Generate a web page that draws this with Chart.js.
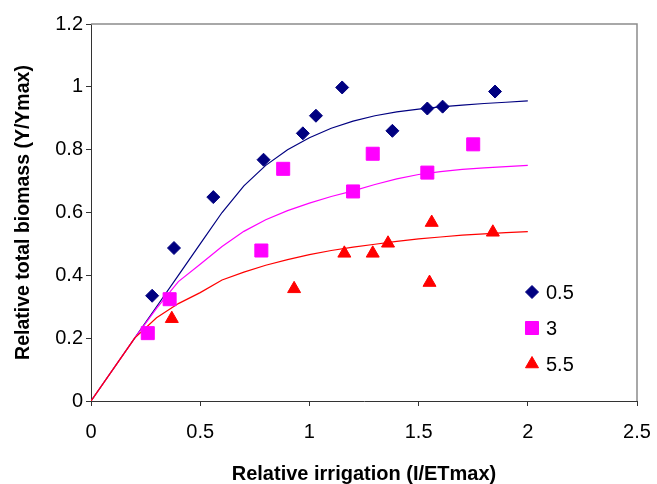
<!DOCTYPE html>
<html>
<head>
<meta charset="utf-8">
<script src="https://cdn.jsdelivr.net/npm/chart.js@4/dist/chart.umd.min.js"></script>
<style>
html,body{margin:0;padding:0;background:#fff;}
canvas{display:block;}
</style>
</head>
<body>
<canvas id="c" width="657" height="484"></canvas>
<script>
// ---- data ----
const seriesNames = ["0.5", "3", "5.5"];

const blueX = [0.28, 0.38, 0.56, 0.79, 0.97, 1.03, 1.15, 1.38, 1.54, 1.61, 1.85];
const blueY = [0.335, 0.487, 0.649, 0.768, 0.852, 0.908, 0.998, 0.860, 0.931, 0.937, 0.985];

const magX = [0.26, 0.36, 0.78, 0.88, 1.20, 1.29, 1.54, 1.75];
const magY = [0.216, 0.324, 0.479, 0.739, 0.667, 0.787, 0.727, 0.817];

const redX = [0.37, 0.93, 1.16, 1.29, 1.36, 1.55, 1.56, 1.84];
const redY = [0.262, 0.357, 0.470, 0.470, 0.502, 0.377, 0.568, 0.537];

const curveX = [0, 0.2, 0.3, 0.4, 0.5, 0.6, 0.7, 0.8, 0.9, 1.0, 1.1, 1.2, 1.3, 1.4, 1.5, 1.6, 1.7, 1.8, 1.9, 2.0];
const blueCurve = [0, 0.2, 0.3, 0.4, 0.5, 0.6, 0.685, 0.750, 0.800, 0.838, 0.868, 0.891, 0.908, 0.920, 0.929, 0.936, 0.942, 0.947, 0.951, 0.955];
const magCurve  = [0, 0.2, 0.295, 0.38, 0.435, 0.492, 0.540, 0.577, 0.606, 0.630, 0.651, 0.669, 0.689, 0.707, 0.721, 0.730, 0.737, 0.742, 0.746, 0.750];
const redCurve  = [0, 0.2, 0.265, 0.31, 0.345, 0.385, 0.410, 0.432, 0.450, 0.466, 0.479, 0.490, 0.499, 0.508, 0.516, 0.522, 0.528, 0.532, 0.536, 0.539];

const xTickValues = [0, 0.5, 1, 1.5, 2, 2.5];
const xTickLabels = ["0", "0.5", "1", "1.5", "2", "2.5"];
const yTickValues = [0, 0.2, 0.4, 0.6, 0.8, 1, 1.2];
const yTickLabels = ["0", "0.2", "0.4", "0.6", "0.8", "1", "1.2"];

const xTitle = "Relative irrigation (I/ETmax)";
const yTitle = "Relative total biomass (Y/Ymax)";

// ---- build ----
const pts = (xs, ys) => xs.map((x, i) => ({x: x, y: ys[i]}));
const FONT = "'Liberation Sans', Arial, sans-serif";
const NAVY = '#000080', MAG = '#FF00FF', RED = '#FF0000';

const frame = {
  id: 'frame',
  afterDraw(chart) {
    const {ctx, chartArea: a} = chart;
    ctx.save();
    ctx.strokeStyle = '#8c8c8c';
    ctx.lineWidth = 1.5;
    ctx.beginPath();
    ctx.moveTo(a.left, a.top);
    ctx.lineTo(a.right, a.top);
    ctx.lineTo(a.right, a.bottom);
    ctx.stroke();
    ctx.restore();
  }
};

const legendPlugin = {
  id: 'customLegend',
  afterDraw(chart) {
    const {ctx, chartArea: a} = chart;
    ctx.save();
    const items = chart.data.datasets.filter(d => d.legendItem);
    items.forEach((d, i) => {
      const mx = a.right - 105, my = a.top + 268 + i * 36;
      ctx.fillStyle = d.backgroundColor;
      ctx.strokeStyle = d.borderColor;
      ctx.lineWidth = 1;
      Chart.helpers.drawPoint(ctx, {pointStyle: d.pointStyle, radius: d.pointRadius, borderWidth: 1, rotation: 0}, mx, my);
      ctx.fillStyle = '#000';
      ctx.font = '20px ' + FONT;
      ctx.textAlign = 'left';
      ctx.textBaseline = 'middle';
      ctx.fillText(d.label, mx + 14, my + 1);
    });
    ctx.restore();
  }
};

const lineDs = (data, color, order) => ({
  type: 'scatter', data: data, showLine: true, pointRadius: 0, pointHoverRadius: 0,
  borderColor: color, backgroundColor: color, borderWidth: 1.2, fill: false, order: order, tension: 0
});
const ptDs = (label, data, color, style, r, order) => ({
  type: 'scatter', label: label, data: data, legendItem: true, pointStyle: style, pointRadius: r,
  pointHoverRadius: r, borderColor: color, backgroundColor: color, borderWidth: 1, order: order
});

new Chart(document.getElementById('c'), {
  type: 'scatter',
  data: {
    datasets: [
      ptDs(seriesNames[0], pts(blueX, blueY), NAVY, 'rectRot', 6.5, 0),
      ptDs(seriesNames[1], pts(magX, magY), MAG, 'rect', 9.2, 1),
      ptDs(seriesNames[2], pts(redX, redY), RED, 'triangle', 7.5, 2),
      lineDs(pts(curveX, blueCurve), NAVY, 5),
      lineDs(pts(curveX, magCurve), MAG, 4),
      lineDs(pts(curveX, redCurve), RED, 3)
    ]
  },
  options: {
    responsive: false,
    animation: false,
    events: [],
    layout: {padding: {left: 0, top: 24, right: 20, bottom: 0}},
    plugins: {legend: {display: false}, tooltip: {enabled: false}},
    scales: {
      x: {
        type: 'linear', min: 0, max: 2.5,
        afterFit(s) { s.height = 83; s.paddingLeft = 0; s.paddingRight = 0; },
        afterBuildTicks(s) { s.ticks = xTickValues.map(v => ({value: v})); },
        ticks: {
          color: '#000', font: {family: FONT, size: 20}, padding: 14, maxRotation: 0,
          callback: (v) => { const i = xTickValues.indexOf(v); return i >= 0 ? xTickLabels[i] : ''; }
        },
        grid: {display: true, drawOnChartArea: false, drawTicks: true, tickLength: 5, color: '#333'},
        border: {display: true, color: '#333', width: 1},
        title: {display: true, text: xTitle, color: '#000', font: {family: FONT, size: 20, weight: 'bold', lineHeight: 0.95}, padding: {top: 0, bottom: 0}}
      },
      y: {
        type: 'linear', min: 0, max: 1.2,
        afterFit(s) { s.width = 91; s.paddingTop = 0; s.paddingBottom = 0; },
        afterBuildTicks(s) { s.ticks = yTickValues.map(v => ({value: v})); },
        ticks: {
          color: '#000', font: {family: FONT, size: 20}, padding: 3,
          callback: (v) => { const i = yTickValues.findIndex(t => Math.abs(t - v) < 1e-9); return i >= 0 ? yTickLabels[i] : ''; }
        },
        grid: {display: true, drawOnChartArea: false, drawTicks: true, tickLength: 5, color: '#333'},
        border: {display: true, color: '#333', width: 1},
        title: {display: true, text: yTitle, color: '#000', font: {family: FONT, size: 19.5, weight: 'bold', lineHeight: 1.2}, padding: {top: 12, bottom: 0}}
      }
    }
  },
  plugins: [frame, legendPlugin]
});
</script>
</body>
</html>
